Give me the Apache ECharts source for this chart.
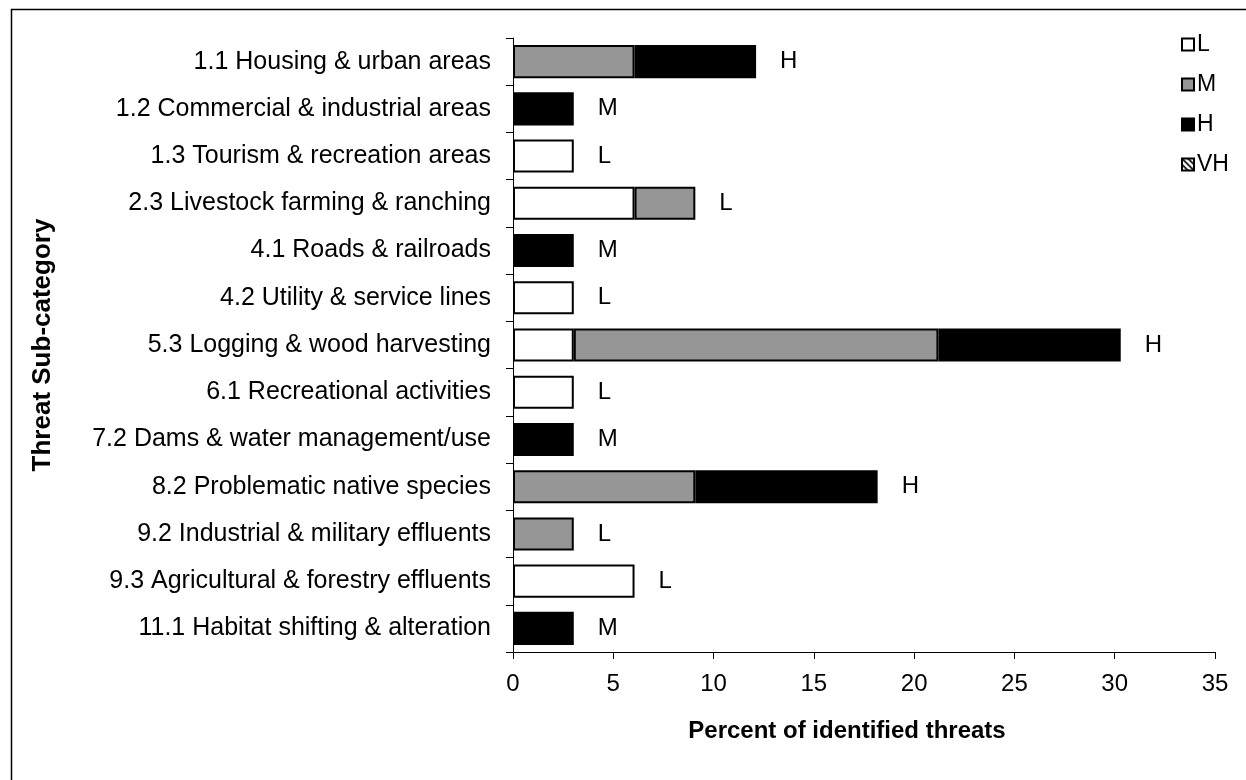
<!DOCTYPE html>
<html>
<head>
<meta charset="utf-8">
<script src="https://cdn.jsdelivr.net/npm/echarts@6/dist/echarts.min.js"></script>
<style>
html,body{margin:0;padding:0;background:#fff;}
#chart{width:1246px;height:780px;}
</style>
</head>
<body>
<div id="chart"></div>
<script>
var categories = [
  '1.1 Housing & urban areas',
  '1.2 Commercial & industrial areas',
  '1.3 Tourism & recreation areas',
  '2.3 Livestock farming & ranching',
  '4.1 Roads & railroads',
  '4.2 Utility & service lines',
  '5.3 Logging & wood harvesting',
  '6.1 Recreational activities',
  '7.2 Dams & water management/use',
  '8.2 Problematic native species',
  '9.2 Industrial & military effluents',
  '9.3 Agricultural & forestry effluents',
  '11.1 Habitat shifting & alteration'
];
var valuesL  = [0, 0, 3.03, 6.06, 0, 3.03, 3.03, 3.03, 0, 0, 0, 6.06, 0];
var valuesM  = [6.06, 0, 0, 3.03, 0, 0, 18.18, 0, 0, 9.09, 3.03, 0, 0];
var valuesH  = [6.06, 3.03, 0, 0, 3.03, 0, 9.09, 0, 3.03, 9.09, 0, 0, 3.03];
var valuesVH = [0, 0, 0, 0, 0, 0, 0, 0, 0, 0, 0, 0, 0];
var ratings  = ['H', 'M', 'L', 'L', 'M', 'L', 'H', 'L', 'M', 'H', 'L', 'L', 'M'];
var xTicks = [0, 5, 10, 15, 20, 25, 30, 35];

var FONT = 'Liberation Sans, Arial, sans-serif';

function hatch() {
  var c = document.createElement('canvas');
  c.width = 6; c.height = 6;
  var g = c.getContext('2d');
  g.fillStyle = '#ffffff'; g.fillRect(0, 0, 6, 6);
  g.strokeStyle = '#000'; g.lineWidth = 1.6;
  g.beginPath();
  g.moveTo(0, 0); g.lineTo(6, 6);
  g.moveTo(-3, 3); g.lineTo(3, 9);
  g.moveTo(3, -3); g.lineTo(9, 3);
  g.stroke();
  return c;
}
function nz(arr) { return arr.map(function (v) { return v === 0 ? '-' : v; }); }

var chart = echarts.init(document.getElementById('chart'), null, {renderer: 'canvas'});
var barBase = {type: 'bar', stack: 'total', barCategoryGap: '30%'};

var option = {
  backgroundColor: '#ffffff',
  animation: false,
  textStyle: {fontFamily: FONT, color: '#000'},
  graphic: [{
    type: 'rect', left: 9, top: 7, silent: true,
    shape: {x: 0, y: 0, width: 1300, height: 800},
    style: {fill: 'none', stroke: '#000', lineWidth: 1.5}
  }],
  grid: {left: 513, right: 31, top: 38, bottom: 128, containLabel: false},
  legend: {
    orient: 'vertical', left: 1176, top: 28,
    itemWidth: 12, itemHeight: 12, itemGap: 17,
    icon: 'rect',
    data: ['L', 'M', 'H', 'VH'],
    textStyle: {fontFamily: FONT, fontSize: 23, color: '#000', padding: [0, 0, 0, -2]},
    selectedMode: false
  },
  xAxis: {
    type: 'value', min: 0, max: 35, interval: 5,
    name: 'Percent of identified threats',
    nameLocation: 'middle', nameGap: 67,
    nameTextStyle: {fontFamily: FONT, fontSize: 24, fontWeight: 'bold', color: '#000', padding: [0, 34, 0, 0]},
    axisLine: {show: true, lineStyle: {color: '#000', width: 1}},
    axisTick: {show: true, length: 7, lineStyle: {color: '#000'}},
    axisLabel: {fontFamily: FONT, fontSize: 24, color: '#000', margin: 20,
      formatter: function (v) { return xTicks.indexOf(v) >= 0 ? String(v) : ''; }},
    splitLine: {show: false}
  },
  yAxis: {
    type: 'category', data: categories, inverse: true,
    name: 'Threat Sub-category',
    nameLocation: 'middle', nameGap: 457, nameRotate: 90,
    nameTextStyle: {fontFamily: FONT, fontSize: 26, fontWeight: 'bold', color: '#000'},
    axisLine: {show: true, lineStyle: {color: '#000', width: 1}},
    axisTick: {show: true, length: 7, lineStyle: {color: '#000'}},
    axisLabel: {fontFamily: FONT, fontSize: 25, color: '#000', margin: 22}
  },
  series: [
    Object.assign({}, barBase, {name: 'L', data: nz(valuesL),
      itemStyle: {color: '#ffffff', borderColor: '#000', borderWidth: 2}}),
    Object.assign({}, barBase, {name: 'M', data: nz(valuesM),
      itemStyle: {color: '#969696', borderColor: '#000', borderWidth: 2}}),
    Object.assign({}, barBase, {name: 'H', data: nz(valuesH),
      itemStyle: {color: '#000000', borderColor: '#000', borderWidth: 2}}),
    Object.assign({}, barBase, {name: 'VH', data: nz(valuesVH),
      itemStyle: {color: {image: hatch(), repeat: 'repeat'}, borderColor: '#000', borderWidth: 2}}),
    Object.assign({}, barBase, {name: 'rating', data: ratings.map(function () { return 0.0001; }),
      itemStyle: {color: 'rgba(0,0,0,0)', borderWidth: 0},
      label: {show: true, position: 'right', distance: 24, fontFamily: FONT, fontSize: 24, color: '#000',
        formatter: function (p) { return ratings[p.dataIndex]; }},
      silent: true, tooltip: {show: false}})
  ]
};
chart.setOption(option);
</script>
</body>
</html>
